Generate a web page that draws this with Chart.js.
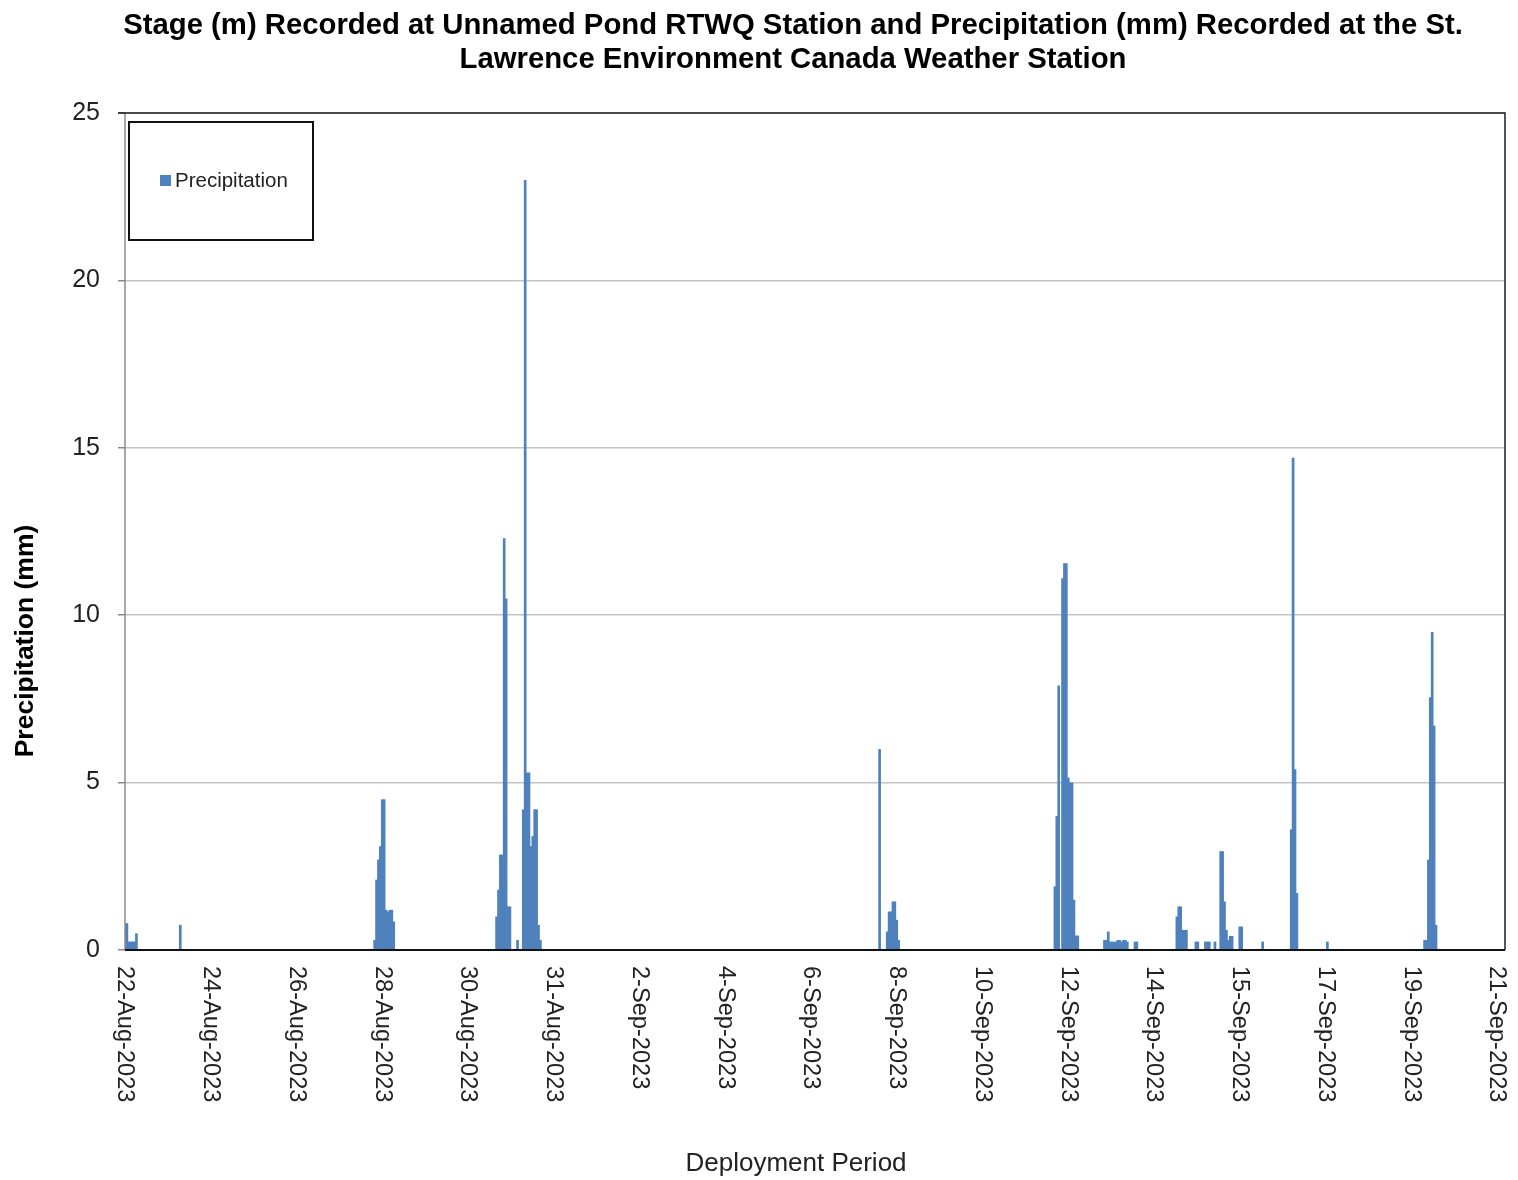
<!DOCTYPE html>
<html>
<head>
<meta charset="utf-8">
<title>Stage and Precipitation</title>
<script src="https://cdn.jsdelivr.net/npm/chart.js@4.4.1/dist/chart.umd.min.js"></script>
<style>
  html, body { margin: 0; padding: 0; background: #fff; }
  #wrap { width: 1518px; height: 1180px; }
</style>
</head>
<body>
<div id="wrap"><canvas id="precipChart" width="1518" height="1180"></canvas></div>
<script>
// hours since 22-Aug-2023 00:00, and hourly rainfall (mm)
const precipHours = [
  0, 1, 2, 3, 4, 5, 6,
  29,
  131, 132, 133, 134, 135, 136, 137, 138, 139, 140, 141,
  195, 196, 197, 198, 199, 200, 201, 202,
  206,
  209, 210, 211, 212, 213, 214, 215, 216, 217, 218,
  396,
  400, 401, 402, 403, 404, 405, 406,
  488, 489, 490, 492, 493, 494, 495, 496, 497, 498, 499, 500,
  514, 515, 516, 517, 518, 519, 520, 521, 522, 523, 524, 525, 526,
  530, 531,
  552, 553, 554, 555, 556, 557,
  562, 563, 567, 568, 569, 572,
  575, 576, 577, 578, 579, 580, 581,
  585, 586, 597,
  612, 613, 614, 615,
  631,
  682, 683, 684, 685, 686, 687, 688,
];
const precipMm = [
  0.8, 0.8, 0.25, 0.25, 0.25, 0.25, 0.5,
  0.75,
  0.3, 2.1, 2.7, 3.1, 4.5, 4.5, 1.2, 1.15, 1.2, 1.2, 0.85,
  1.0, 1.8, 2.85, 2.85, 12.3, 10.5, 1.3, 1.3,
  0.3,
  4.2, 23.0, 5.3, 5.3, 3.1, 3.4, 4.2, 4.2, 0.75, 0.3,
  6.0,
  0.55, 1.15, 1.15, 1.45, 1.45, 0.9, 0.3,
  1.9, 4.0, 7.9, 11.1, 11.55, 11.55, 5.15, 5.0, 5.0, 1.5, 0.43, 0.43,
  0.3, 0.3, 0.55, 0.25, 0.25, 0.25, 0.25, 0.3, 0.3, 0.25, 0.3, 0.3, 0.25,
  0.25, 0.25,
  1.0, 1.3, 1.3, 0.6, 0.6, 0.6,
  0.25, 0.25, 0.25, 0.25, 0.25, 0.25,
  2.95, 2.95, 1.45, 0.6, 0.3, 0.42, 0.42,
  0.7, 0.7, 0.25,
  3.6, 14.7, 5.4, 1.7,
  0.25,
  0.3, 0.3, 2.7, 7.55, 9.5, 6.7, 0.75,
];

// Excel date axis: 22-Aug to 21-Sep split in 16 steps, labels rounded to the day
const dateTickLabels = [
  "22-Aug-2023", "24-Aug-2023", "26-Aug-2023", "28-Aug-2023", "30-Aug-2023",
  "31-Aug-2023", "2-Sep-2023", "4-Sep-2023", "6-Sep-2023", "8-Sep-2023",
  "10-Sep-2023", "12-Sep-2023", "14-Sep-2023", "15-Sep-2023", "17-Sep-2023",
  "19-Sep-2023", "21-Sep-2023",
];
const axisDays = 30;
const axisEndDays = 30.175; // plot frame runs a little past the last tick
const tickStep = axisDays / (dateTickLabels.length - 1);

const titleLines = [
  "Stage (m) Recorded at Unnamed Pond RTWQ Station and Precipitation (mm) Recorded at the St.",
  "Lawrence Environment Canada Weather Station",
];

const FONT = '"Liberation Sans", Arial, sans-serif';
const BAR_BLUE = "#4f81bd";

Chart.defaults.font.family = FONT;

const textPlugin = {
  id: "excelText",
  afterDatasetsDraw(chart) {
    const { ctx, chartArea } = chart;
    const { left, right, top, bottom } = chartArea;
    ctx.save();

    // plot frame
    ctx.lineWidth = 1.5;
    ctx.strokeStyle = "#8a8a8a";
    ctx.beginPath();
    ctx.moveTo(left, top);
    ctx.lineTo(left, bottom);
    ctx.stroke();
    ctx.strokeStyle = "#1e1e1e";
    ctx.beginPath();
    ctx.moveTo(left - 7, top);
    ctx.lineTo(right, top);
    ctx.lineTo(right, bottom);
    ctx.stroke();
    ctx.lineWidth = 2.2;
    ctx.strokeStyle = "#111";
    ctx.beginPath();
    ctx.moveTo(left, bottom);
    ctx.lineTo(right, bottom);
    ctx.stroke();

    // legend box
    ctx.fillStyle = "#fff";
    ctx.fillRect(129, 122, 184, 118);
    ctx.lineWidth = 2;
    ctx.strokeStyle = "#111";
    ctx.strokeRect(129, 122, 184, 118);
    ctx.fillStyle = BAR_BLUE;
    ctx.fillRect(160, 175, 11, 11);
    ctx.fillStyle = "#222";
    ctx.font = "20.5px " + FONT;
    ctx.textAlign = "left";
    ctx.textBaseline = "middle";
    ctx.fillText("Precipitation", 175, 181);
    ctx.restore();
  },
  afterDraw(chart) {
    const { ctx, chartArea } = chart;
    const xScale = chart.scales.x;
    ctx.save();

    // title
    ctx.fillStyle = "#000";
    ctx.font = "bold 29.3px " + FONT;
    ctx.textAlign = "center";
    ctx.textBaseline = "alphabetic";
    ctx.fillText(titleLines[0], 793, 34);
    ctx.fillText(titleLines[1], 793, 68);

    // y axis title
    ctx.save();
    ctx.translate(33, 641);
    ctx.rotate(-Math.PI / 2);
    ctx.font = "bold 26.5px " + FONT;
    ctx.fillText("Precipitation (mm)", 0, 0);
    ctx.restore();

    // x axis title
    ctx.fillStyle = "#222";
    ctx.font = "26px " + FONT;
    ctx.fillText("Deployment Period", 796, 1171);

    // date labels, turned to read top to bottom
    ctx.font = "23.6px " + FONT;
    ctx.textAlign = "left";
    ctx.textBaseline = "middle";
    dateTickLabels.forEach((label, i) => {
      const px = xScale.getPixelForValue(i * tickStep);
      ctx.save();
      ctx.translate(px, chartArea.bottom + 16);
      ctx.rotate(Math.PI / 2);
      ctx.fillText(label, 0, 0);
      ctx.restore();
    });
    ctx.restore();
  },
};

new Chart(document.getElementById("precipChart"), {
  type: "bar",
  data: {
    datasets: [
      {
        label: "Precipitation",
        data: precipHours.map((h, i) => ({ x: h / 24, y: precipMm[i] })),
        backgroundColor: BAR_BLUE,
        borderWidth: 0,
        // a touch wider than one hour, like the blurred Excel bars
        barPercentage: 1.4,
        categoryPercentage: 1,
      },
    ],
  },
  options: {
    responsive: false,
    animation: false,
    devicePixelRatio: 1,
    layout: { padding: { top: 113, right: 13, left: 65, bottom: 0 } },
    plugins: {
      legend: { display: false },
      title: { display: false },
      tooltip: { enabled: false },
    },
    scales: {
      x: {
        type: "linear",
        min: 0,
        max: axisEndDays,
        offset: false,
        grid: { display: false },
        border: { display: false },
        ticks: { display: false },
        afterBuildTicks(scale) {
          scale.ticks = dateTickLabels.map((_, i) => ({ value: i * tickStep }));
        },
        afterFit(scale) {
          scale.height = 230;
        },
      },
      y: {
        min: 0,
        max: 25,
        ticks: {
          stepSize: 5,
          color: "#222",
          padding: 18,
          font: { size: 25 },
        },
        grid: {
          color: "#c4c4c4",
          lineWidth: 1.5,
          tickLength: 7,
          tickColor: "#8a8a8a",
        },
        border: { display: false },
        afterFit(scale) {
          scale.width = 60;
        },
      },
    },
  },
  plugins: [textPlugin],
});
</script>
</body>
</html>
